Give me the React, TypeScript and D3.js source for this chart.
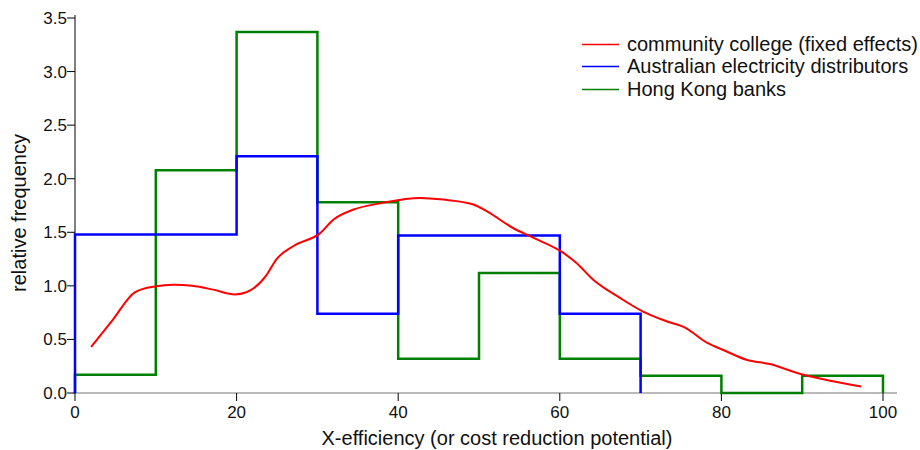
import React from "react";
import * as d3 from "d3";

// Hong Kong banks: histogram with 10-unit bins over 0–100
const hkEdges = [0, 10, 20, 30, 40, 50, 60, 70, 80, 90, 100];
const hkValues = [0.17, 2.08, 3.37, 1.78, 0.32, 1.12, 0.32, 0.16, 0, 0.16];

// Australian electricity distributors: histogram with uneven bins
const auEdges = [0, 20, 30, 40, 60, 70];
const auValues = [1.48, 2.21, 0.74, 1.47, 0.74];

// Community college (fixed effects): kernel density estimate
const ccX = [2, 4.7, 7.4, 9.9, 12.2, 14.5, 17.1, 19.8, 21.2, 23.7, 24.9, 27, 30.3, 32, 34.4, 38.1, 42.7, 45.6, 49.3, 50.9, 54.2, 56.7, 60.4, 62.1, 64.1, 67.4, 70.3, 73.2, 75.5, 78.2, 80.6, 83.1, 86, 89.7, 93.8, 97.3];
const ccY = [0.43, 0.685, 0.94, 0.995, 1.01, 1.0, 0.965, 0.92, 0.94, 1.1, 1.245, 1.37, 1.49, 1.62, 1.71, 1.775, 1.82, 1.805, 1.76, 1.7, 1.54, 1.45, 1.31, 1.21, 1.06, 0.89, 0.76, 0.67, 0.61, 0.47, 0.39, 0.31, 0.27, 0.18, 0.11, 0.06];

const xTicks = [0, 20, 40, 60, 80, 100];
const yTicks = [0, 0.5, 1, 1.5, 2, 2.5, 3, 3.5];

const seriesNames = [
  "community college (fixed effects)",
  "Australian electricity distributors",
  "Hong Kong banks",
];
const seriesColors = ["#ff0000", "#0000ff", "#008000"];

const W = 920;
const H = 450;
const FONT = "'Liberation Sans', Arial, Helvetica, sans-serif";

const x = d3.scaleLinear().domain([0, 100]).range([75, 883]);
const y = d3.scaleLinear().domain([0, 3.5]).range([393, 18]);

function stepPoints(edges: number[], values: number[]): [number, number][] {
  const pts: [number, number][] = [[edges[0], 0]];
  values.forEach((v, i) => {
    pts.push([edges[i], v]);
    pts.push([edges[i + 1], v]);
  });
  pts.push([edges[edges.length - 1], 0]);
  return pts;
}

const stepLine = d3
  .line<[number, number]>()
  .x((d) => x(d[0]))
  .y((d) => y(d[1]));

const densityLine = d3
  .line<[number, number]>()
  .x((d) => x(d[0]))
  .y((d) => y(d[1]))
  .curve(d3.curveMonotoneX);

export default function App() {
  const hkPath = stepLine(stepPoints(hkEdges, hkValues)) || "";
  const auPath = stepLine(stepPoints(auEdges, auValues)) || "";
  const ccPath = densityLine(ccX.map((v, i) => [v, ccY[i]] as [number, number])) || "";

  return (
    <div style={{ position: "absolute", left: 0, top: 0 }}>
      <svg width={W} height={H} style={{ display: "block", background: "#fff" }} fontFamily={FONT}>
        {/* axes */}
        <line x1={73} x2={897} y1={y(0)} y2={y(0)} stroke="#777" strokeWidth={1.2} />
        <line x1={x(0)} x2={x(0)} y1={y(0)} y2={15} stroke="#000" strokeWidth={1} />
        {xTicks.map((t) => (
          <g key={"x" + t}>
            <line x1={x(t)} x2={x(t)} y1={y(0)} y2={y(0) + 8} stroke="#000" />
            <text x={x(t)} y={y(0) + 25} textAnchor="middle" fontSize={17} fill="#111">
              {t}
            </text>
          </g>
        ))}
        {yTicks.map((t) => (
          <g key={"y" + t}>
            <line x1={x(0) - 8} x2={x(0)} y1={y(t)} y2={y(t)} stroke="#000" />
            <text x={x(0) - 8} y={y(t)} dy="0.35em" textAnchor="end" fontSize={17} fill="#111">
              {t.toFixed(1)}
            </text>
          </g>
        ))}
        <text x={497} y={445} textAnchor="middle" fontSize={20} fill="#111">
          X-efficiency (or cost reduction potential)
        </text>
        <text
          transform={`translate(26,213) rotate(-90)`}
          textAnchor="middle"
          fontSize={20}
          fill="#111"
        >
          relative frequency
        </text>

        {/* series */}
        <path d={hkPath} fill="none" stroke={seriesColors[2]} strokeWidth={2.5} />
        <path d={auPath} fill="none" stroke={seriesColors[1]} strokeWidth={2.5} />
        <path d={ccPath} fill="none" stroke={seriesColors[0]} strokeWidth={2} />

        {/* legend */}
        {seriesNames.map((name, i) => {
          const ly = 43.5 + i * 22.5;
          return (
            <g key={name}>
              <line x1={582} x2={619} y1={Math.round(ly) + 0.5} y2={Math.round(ly) + 0.5} stroke={seriesColors[i]} strokeWidth={1.4} />
              <text x={627} y={ly} dy="0.35em" fontSize={20} fill="#111">
                {name}
              </text>
            </g>
          );
        })}
      </svg>
    </div>
  );
}
